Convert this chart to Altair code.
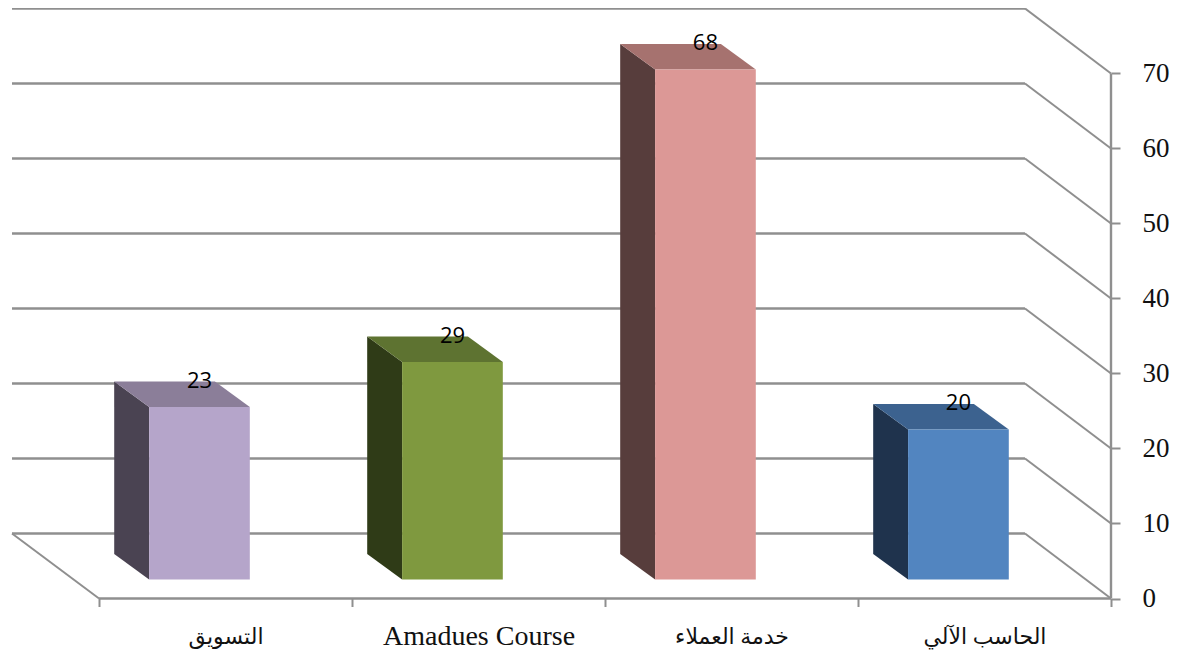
import altair as alt
import pandas as pd

categories = ["التسويق", "Amadues Course", "خدمة العملاء", "الحاسب الآلي"]
values = [23, 29, 68, 20]
front_colors = ["#B5A5CA", "#7F993F", "#DC9896", "#5285C0"]
side_colors = ["#4A4352", "#2F3B17", "#573D3C", "#1F334D"]
top_colors = ["#8B7E99", "#5E7331", "#A6726F", "#3C628F"]
y_ticks = [0, 10, 20, 30, 40, 50, 60, 70]
x_ticks = [0, 1, 2, 3, 4]

LINE = "#8F8F8F"
WALL_DX, WALL_DY = 0.34, 8.67
LEFT_END = -0.344
BAR_START, BAR_W = 0.198, 0.398
BAR_BASE = 2.53
BAR_DX, BAR_DY = 0.138, 3.4
LABEL_UP = 3.5

x_scale = alt.Scale(domain=[LEFT_END, 4], nice=False, zero=False)
y_scale = alt.Scale(domain=[0, 78.73], nice=False, zero=False)

X = alt.X("x:Q", scale=x_scale, title=None, axis=alt.Axis(
    values=x_ticks, grid=False, domain=False, tickColor=LINE, tickWidth=2, tickSize=8,
    labelExpr="['" + "','".join(categories) + "',''][datum.value]",
    labelOffset=126.5, labelPadding=30, labelBaseline="middle", labelLimit=400,
    labelFont="Liberation Serif, DejaVu Sans",
    labelFontSize={"condition": {"test": "datum.value === 1", "value": 28}, "value": 22},
    labelColor="#111111", labelOverlap=False, labelBound=False,
    labelFlush=False, labelAngle=0))
Y = alt.Y("y:Q", scale=y_scale, title=None, axis=alt.Axis(
    values=y_ticks, orient="right", grid=False, domain=False, tickColor=LINE, tickWidth=2,
    tickSize=9, labelPadding=22, labelFont="Liberation Serif", labelFontSize=27,
    labelColor="#111111", labelOverlap=False, labelBound=False, labelFlush=False))

back = pd.DataFrame({"x": LEFT_END, "x2": 4 - WALL_DX, "y": [v + WALL_DY for v in y_ticks]})
back_layer = alt.Chart(back).mark_rule(color=LINE, strokeWidth=2.4).encode(x=X, x2="x2:Q", y=Y)

wall_rows = []
for v in y_ticks:
    wall_rows += [dict(g=v, x=4 - WALL_DX, y=v + WALL_DY), dict(g=v, x=4, y=v)]
wall_rows += [dict(g=-1, x=LEFT_END, y=WALL_DY), dict(g=-1, x=0, y=0)]
wall_layer = alt.Chart(pd.DataFrame(wall_rows)).mark_line(color=LINE, strokeWidth=2).encode(
    x=X, y=Y, detail="g:N")

floor_layer = alt.Chart(pd.DataFrame({"x": [0], "x2": [4], "y": [0]})).mark_rule(
    color=LINE, strokeWidth=2.4).encode(x=X, x2="x2:Q", y=Y)
right_layer = alt.Chart(pd.DataFrame({"x": [4], "y": [0], "y2": [70]})).mark_rule(
    color=LINE, strokeWidth=2.4).encode(x=X, y=Y, y2="y2:Q")

fronts, sides, tops, labels = [], [], [], []
for i, v in enumerate(values):
    l = i + BAR_START
    fronts.append(dict(x=l, x2=l + BAR_W, y=BAR_BASE, y2=BAR_BASE + v, c=front_colors[i]))
    sides += [dict(g=i, x=l - BAR_DX, y=BAR_BASE + BAR_DY, y2=BAR_BASE + BAR_DY + v, c=side_colors[i]),
              dict(g=i, x=l, y=BAR_BASE, y2=BAR_BASE + v, c=side_colors[i])]
    tops += [dict(g=i, y=BAR_BASE + v, x=l, x2=l + BAR_W, c=top_colors[i]),
             dict(g=i, y=BAR_BASE + v + BAR_DY, x=l - BAR_DX, x2=l - BAR_DX + BAR_W, c=top_colors[i])]
    labels.append(dict(x=l + BAR_W / 2, y=BAR_BASE + v + LABEL_UP, t=str(v)))

color = alt.Color("c:N", scale=None, legend=None)
side_layer = alt.Chart(pd.DataFrame(sides)).mark_area(orient="vertical").encode(
    x=X, y=Y, y2="y2:Q", color=color, detail="g:N")
top_layer = alt.Chart(pd.DataFrame(tops)).mark_area(orient="horizontal").encode(
    x=X, x2="x2:Q", y=Y, color=color, detail="g:N")
front_layer = alt.Chart(pd.DataFrame(fronts)).mark_rect().encode(
    x=X, x2="x2:Q", y=Y, y2="y2:Q", color=color)
label_layer = alt.Chart(pd.DataFrame(labels)).mark_text(
    font="Open Sans", fontSize=22, color="#000000", baseline="middle").encode(x=X, y=Y, text="t:N")

chart = alt.layer(
    back_layer, wall_layer, floor_layer, right_layer,
    side_layer, top_layer, front_layer, label_layer
).properties(
    width=1099, height=590.5,
    padding={"left": 4, "top": 0, "right": 60, "bottom": 55},
    autosize=alt.AutoSizeParams(type="none"),
    background="#FFFFFF",
).configure_view(stroke=None)

chart.save("out.html", embed_options={"renderer": "svg", "actions": False})
